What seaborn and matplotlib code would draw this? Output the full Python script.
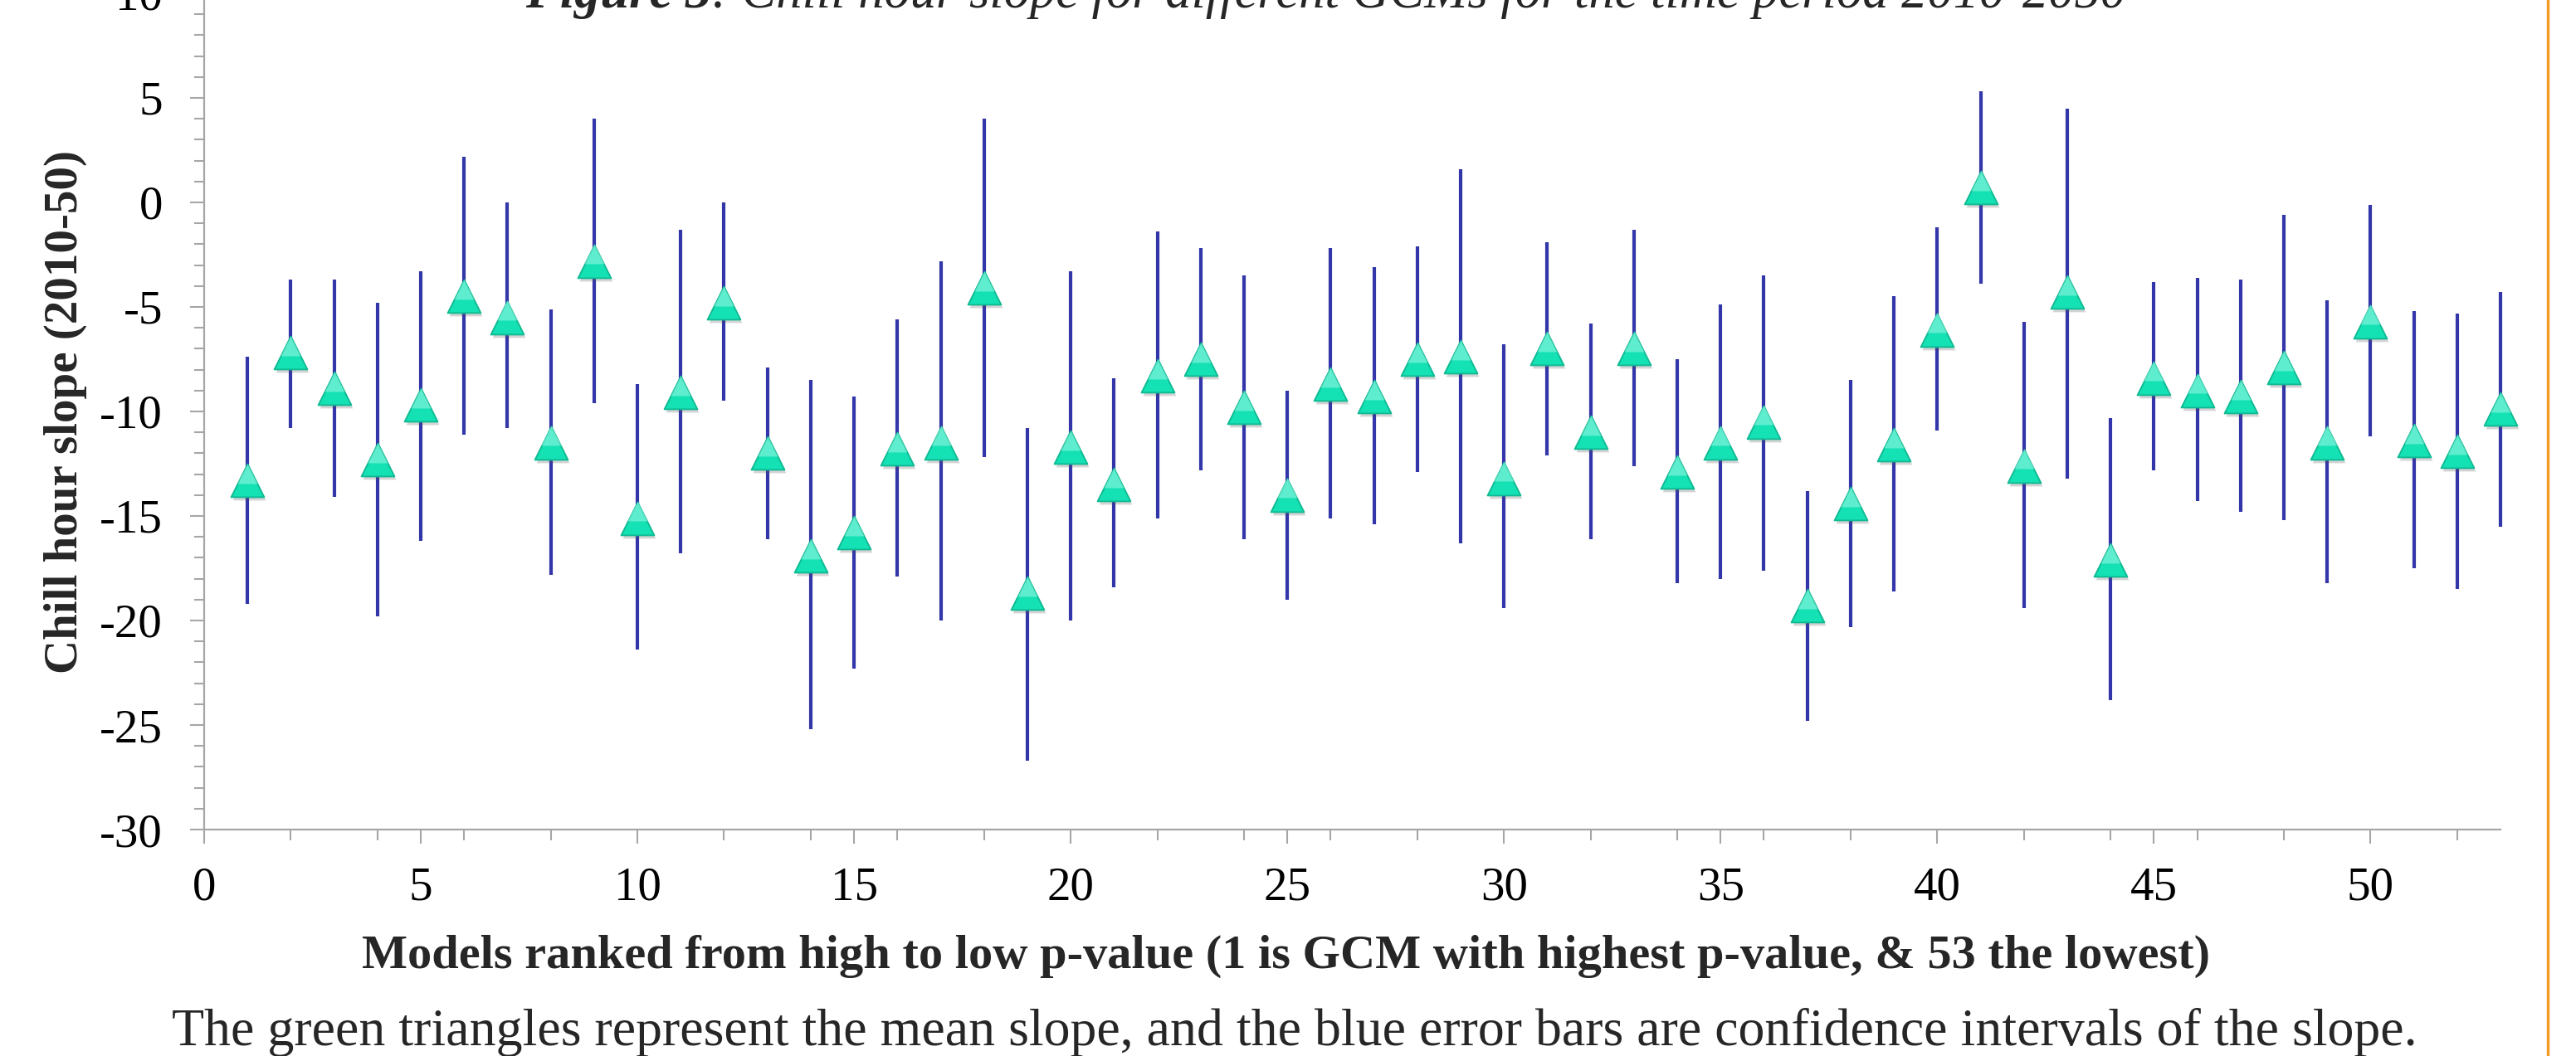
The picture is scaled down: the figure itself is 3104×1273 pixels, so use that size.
import numpy as np
import pandas as pd
import matplotlib
matplotlib.use("Agg")
import matplotlib.pyplot as plt
import matplotlib.transforms as mtransforms
from matplotlib.lines import Line2D
from matplotlib.ticker import MultipleLocator
import seaborn as sns

# Models ranked by p-value (1 = highest p-value)
model_rank = list(range(1, 54))

# mean chill hour slope (green triangles)
mean_slope = [-13.3, -7.2, -8.9, -12.3, -9.7, -4.5, -5.5, -11.5, -2.8, -15.1,
              -9.1, -4.8, -12.0, -16.9, -15.8, -11.8, -11.5, -4.1, -18.7, -11.7,
              -13.5, -8.3, -7.5, -9.8, -14.0, -8.7, -9.3, -7.5, -7.4, -13.2,
              -7.0, -11.0, -7.0, -12.9, -11.5, -10.5, -19.3, -14.4, -11.6, -6.1,
              0.7, -12.6, -4.3, -17.1, -8.4, -9.0, -9.3, -7.9, -11.5, -5.7,
              -11.4, -11.9, -9.9]

# confidence interval of the slope (blue bars)
ci_high = [-7.4, -3.7, -3.7, -4.8, -3.3, 2.2, 0.0, -5.1, 4.0, -8.7,
           -1.3, 0.0, -7.9, -8.5, -9.3, -5.6, -2.8, 4.0, -10.8, -3.3,
           -8.4, -1.4, -2.2, -3.5, -9.0, -2.2, -3.1, -2.1, 1.6, -6.8,
           -1.9, -5.8, -1.3, -7.5, -4.9, -3.5, -13.8, -8.5, -4.5, -1.2,
           5.3, -5.7, 4.5, -10.3, -3.8, -3.6, -3.7, -0.6, -4.7, -0.1,
           -5.2, -5.3, -4.3]
ci_low = [-19.2, -10.8, -14.1, -19.8, -16.2, -11.1, -10.8, -17.8, -9.6, -21.4,
          -16.8, -9.5, -16.1, -25.2, -22.3, -17.9, -20.0, -12.2, -26.7, -20.0,
          -18.4, -15.1, -12.8, -16.1, -19.0, -15.1, -15.4, -12.9, -16.3, -19.4,
          -12.1, -16.1, -12.6, -18.2, -18.0, -17.6, -24.8, -20.3, -18.6, -10.9,
          -3.9, -19.4, -13.2, -23.8, -12.8, -14.3, -14.8, -15.2, -18.2, -11.2,
          -17.5, -18.5, -15.5]

df = pd.DataFrame({"rank": model_rank, "mean": mean_slope,
                   "low": ci_low, "high": ci_high})

sns.set_theme(style="white")
plt.rcParams["font.family"] = ["Liberation Serif", "DejaVu Serif"]
plt.rcParams["axes.unicode_minus"] = False

W, H = 3104, 1273
fig = plt.figure(figsize=(W / 100, H / 100), dpi=100)
ax = fig.add_axes([246 / W, 1 - 1000 / H, (3013 - 246) / W, 1008 / H])

# error bars
ax.vlines(df["rank"], df["low"], df["high"], color="#3236A8", linewidth=3.0,
          zorder=2, clip_on=False)

msize = 820

# soft shadow under the triangles
shadow = mtransforms.offset_copy(ax.transData, fig=fig, x=2, y=-4, units="dots")
ax.scatter(df["rank"], df["mean"], marker="^", s=msize, color="#555555", alpha=0.25,
           linewidths=0, transform=shadow, zorder=3, clip_on=False)

sns.scatterplot(data=df, x="rank", y="mean", marker="^", s=msize, color="#14E2B5",
                edgecolor="#10BA93", linewidth=1.4, legend=False, zorder=4, ax=ax,
                clip_on=False)

# lighter top part of the triangles
hilite = mtransforms.offset_copy(ax.transData, fig=fig, x=0, y=6, units="points")
ax.scatter(df["rank"], df["mean"], marker="^", s=msize * 0.36, color="#86F6DE", alpha=0.65,
           linewidths=0, transform=hilite, zorder=5, clip_on=False)

ax.set_xlim(0, 53)
ax.set_ylim(-30, 10)
ax.xaxis.set_major_locator(MultipleLocator(5))
ax.xaxis.set_minor_locator(MultipleLocator(2))
ax.yaxis.set_major_locator(MultipleLocator(5))
ax.yaxis.set_minor_locator(MultipleLocator(1))

for side in ["top", "right"]:
    ax.spines[side].set_visible(False)
for side in ["left", "bottom"]:
    ax.spines[side].set_color("#A6A6A6")
    ax.spines[side].set_linewidth(1.6)

ax.tick_params(which="both", direction="out", color="#A6A6A6", width=1.5,
               bottom=True, left=True)
ax.tick_params(which="major", length=12)
ax.tick_params(which="minor", length=9)
ax.tick_params(axis="y", which="major", pad=24, labelsize=41, labelcolor="black")
ax.tick_params(axis="x", which="major", pad=20, labelsize=41, labelcolor="black")

ax.set_ylabel("Chill hour slope (2010-50)", fontsize=41, fontweight="bold")
ax.yaxis.label.set_va("center")
ax.yaxis.set_label_coords(-(246 - 79) / 2767, 0.5)
ax.set_xlabel("Models ranked from high to low p-value (1 is GCM with highest p-value, & 53 the lowest)",
              fontsize=42, fontweight="bold")
ax.xaxis.label.set_va("baseline")
ax.xaxis.set_label_coords((1550 - 246) / 2767, -(1167 - 1000) / 1008)

# title (cut off at the top of the image)
t1 = fig.text(633 / W, 1 - 9 / H, "Figure 3", fontsize=45, fontweight="bold",
              style="italic", ha="left", va="baseline")
ax.annotate(": Chill hour slope for different GCMs for the time period 2010-2050",
            xy=(1, 0), xycoords=t1, ha="left", va="bottom", fontsize=45,
            style="italic", annotation_clip=False)

fig.text(1560 / W, 1 - 1260 / H,
         "The green triangles represent the mean slope, and the blue error bars are confidence intervals of the slope.",
         fontsize=46, ha="center", va="baseline")

# orange page border on the right
fig.add_artist(Line2D([3070 / W, 3070 / W], [0, 1], transform=fig.transFigure,
                      color="#F59A23", linewidth=2.4))

fig.savefig("out.png", dpi=100, facecolor="white")
